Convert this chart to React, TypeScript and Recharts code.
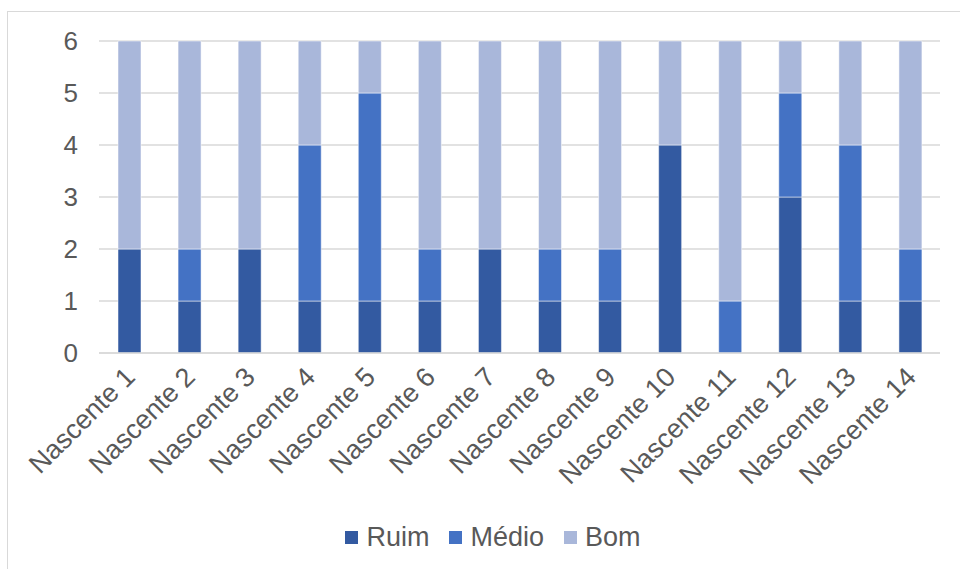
import { BarChart, Bar, XAxis, YAxis, CartesianGrid, Legend } from "recharts";

const nascentes = [
  "Nascente 1",
  "Nascente 2",
  "Nascente 3",
  "Nascente 4",
  "Nascente 5",
  "Nascente 6",
  "Nascente 7",
  "Nascente 8",
  "Nascente 9",
  "Nascente 10",
  "Nascente 11",
  "Nascente 12",
  "Nascente 13",
  "Nascente 14",
];
const ruim = [2, 1, 2, 1, 1, 1, 2, 1, 1, 4, 0, 3, 1, 1];
const medio = [0, 1, 0, 3, 4, 1, 0, 1, 1, 0, 1, 2, 3, 1];
const bom = [4, 4, 4, 2, 1, 4, 4, 4, 4, 2, 5, 1, 2, 4];
const yTicks = [0, 1, 2, 3, 4, 5, 6];
const seriesOrder = ["Ruim", "Médio", "Bom"];

const data = nascentes.map((name, i) => ({
  name,
  Ruim: ruim[i],
  Médio: medio[i],
  Bom: bom[i],
}));

const textColor = "#595959";
const gridColor = "#d9d9d9";
const font = "'Liberation Sans', Arial, sans-serif";

function LegendRow({ payload }: any) {
  const items = [...(payload || [])].sort(
    (a: any, b: any) => seriesOrder.indexOf(a.value) - seriesOrder.indexOf(b.value)
  );
  return (
    <div
      style={{
        display: "flex",
        justifyContent: "center",
        alignItems: "center",
        height: 48,
        paddingLeft: 46,
        boxSizing: "border-box",
        fontFamily: font,
        fontSize: 27,
        color: textColor,
      }}
    >
      {items.map((p: any, i: number) => (
        <span
          key={p.value}
          style={{ display: "flex", alignItems: "center", marginLeft: i === 0 ? 0 : 20 }}
        >
          <span style={{ width: 13, height: 13, background: p.color, marginRight: 8 }} />
          {p.value}
        </span>
      ))}
    </div>
  );
}

export default function App() {
  return (
    <div style={{ position: "fixed", left: 0, top: 0, width: 960, height: 569, background: "#fff" }}>
      <div
        style={{
          position: "absolute",
          left: 7,
          top: 11,
          width: 960,
          height: 569,
          border: `1px solid ${gridColor}`,
        }}
      />
      <BarChart
        width={960}
        height={569}
        data={data}
        margin={{ top: 41, right: 20, left: 0, bottom: 0 }}
        style={{ position: "absolute", left: 0, top: 0 }}
      >
        <CartesianGrid vertical={false} stroke={gridColor} strokeWidth={1.5} />
        <XAxis
          dataKey="name"
          interval={0}
          angle={-45}
          textAnchor="end"
          height={168}
          tickLine={false}
          axisLine={{ stroke: gridColor, strokeWidth: 1.5 }}
          tickMargin={6}
          tick={{ fill: textColor, fontSize: 27, fontFamily: font, dx: -6 }}
        />
        <YAxis
          width={99}
          domain={[0, 6]}
          ticks={yTicks}
          tickLine={false}
          axisLine={false}
          tickMargin={15}
          tick={{ fill: textColor, fontSize: 26, fontFamily: font }}
        />
        <Legend verticalAlign="bottom" content={<LegendRow />} wrapperStyle={{ height: 48, bottom: 8 }} />
        <Bar dataKey="Ruim" stackId="a" fill="#335aa1" barSize={23} stroke="#ffffff" strokeWidth={0.5} isAnimationActive={false} />
        <Bar dataKey="Médio" stackId="a" fill="#4472c4" barSize={23} stroke="#ffffff" strokeWidth={0.5} isAnimationActive={false} />
        <Bar dataKey="Bom" stackId="a" fill="#a9b7da" barSize={23} stroke="#ffffff" strokeWidth={0.5} isAnimationActive={false} />
      </BarChart>
    </div>
  );
}
